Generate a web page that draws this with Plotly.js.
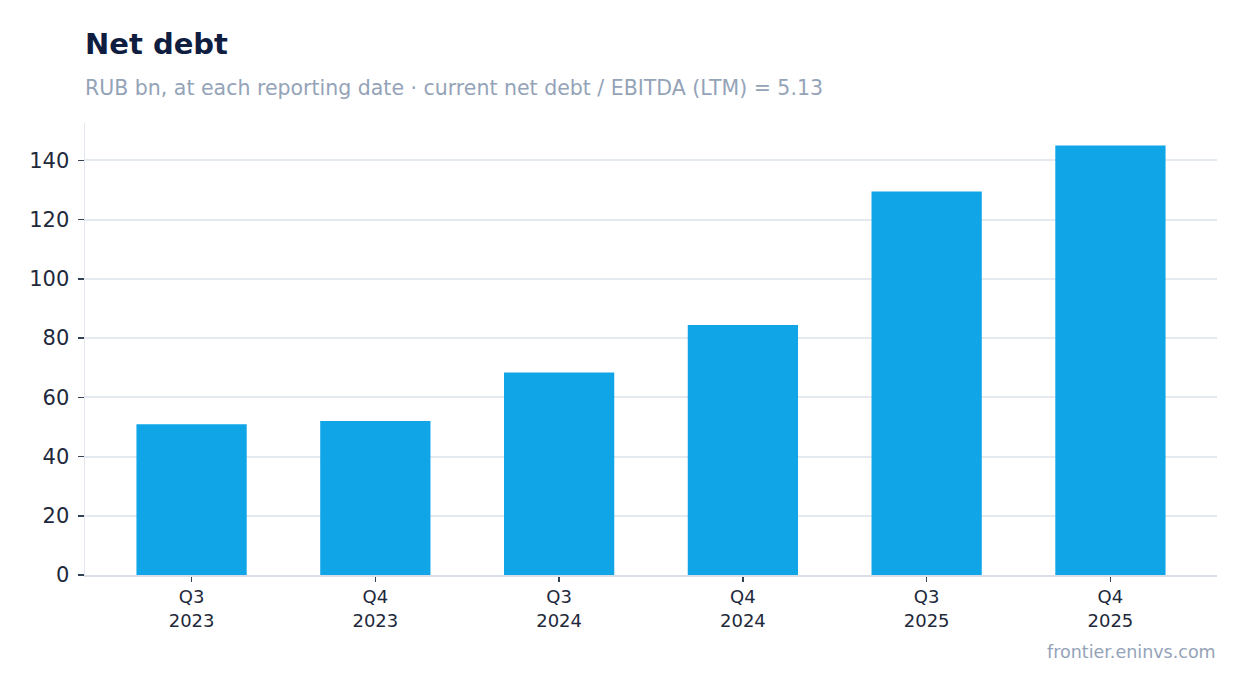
<!DOCTYPE html>
<html>
<head>
<meta charset="utf-8">
<script src="https://cdn.plot.ly/plotly-3.0.1.min.js"></script>
<style>html,body{margin:0;padding:0;background:#fff;}#chart{width:1247px;height:693px;}</style>
</head>
<body>
<div id="chart"></div>
<script>
const categories = ["Q3<br>2023", "Q4<br>2023", "Q3<br>2024", "Q4<br>2024", "Q3<br>2025", "Q4<br>2025"];
const netDebt = [50.9, 52.0, 68.4, 84.4, 129.5, 145.0];
const yTicks = [0, 20, 40, 60, 80, 100, 120, 140];

const trace = {
  type: 'bar',
  x: categories,
  y: netDebt,
  width: 0.6,
  marker: {color: '#10a5e7'},
  hoverinfo: 'x+y'
};

const layout = {
  width: 1247, height: 693,
  margin: {l: 85, r: 30, t: 123, b: 118},
  paper_bgcolor: '#ffffff', plot_bgcolor: '#ffffff',
  font: {family: 'DejaVu Sans, sans-serif', color: '#0f172a'},
  showlegend: false,
  title: {
    text: '<b>Net debt</b>',
    font: {size: 29, color: '#0f1d40', family: 'DejaVu Sans, sans-serif'},
    x: 85/1247, xanchor: 'left', xref: 'container',
    y: 1 - 44/693, yanchor: 'middle', yref: 'container'
  },
  xaxis: {
    type: 'category',
    range: [-0.58, 5.58],
    showgrid: false,
    showline: true, linecolor: '#d9dee8', linewidth: 1.5,
    ticks: 'outside', ticklen: 5, tickcolor: '#334155', tickwidth: 1.5,
    tickfont: {size: 18, color: '#1e293b'},
    fixedrange: true
  },
  yaxis: {
    range: [0, 152.6],
    tickvals: yTicks,
    showgrid: true, gridcolor: '#e5e9f0', gridwidth: 2,
    zeroline: false,
    showline: true, linecolor: '#e2e6ee', linewidth: 1.5,
    ticks: 'outside', ticklen: 6, tickcolor: '#334155', tickwidth: 1.5,
    ticklabelstandoff: 4,
    tickfont: {size: 21, color: '#1e293b'},
    fixedrange: true
  },
  annotations: [
    {
      text: 'RUB bn, at each reporting date · current net debt / EBITDA (LTM) = 5.13',
      xref: 'paper', yref: 'paper', x: 0, xanchor: 'left', xshift: -2,
      y: (693 - 88 - 118) / (693 - 123 - 118), yanchor: 'middle',
      showarrow: false,
      font: {size: 20.5, color: '#94a3b8'}
    },
    {
      text: 'frontier.eninvs.com',
      xref: 'paper', yref: 'paper', x: 1, xanchor: 'right', xshift: 1,
      y: -(652 - 575) / (693 - 123 - 118), yanchor: 'middle',
      showarrow: false,
      font: {size: 17.5, color: '#94a3b8'}
    }
  ]
};

Plotly.newPlot('chart', [trace], layout, {displayModeBar: false, staticPlot: true});
</script>
</body>
</html>
